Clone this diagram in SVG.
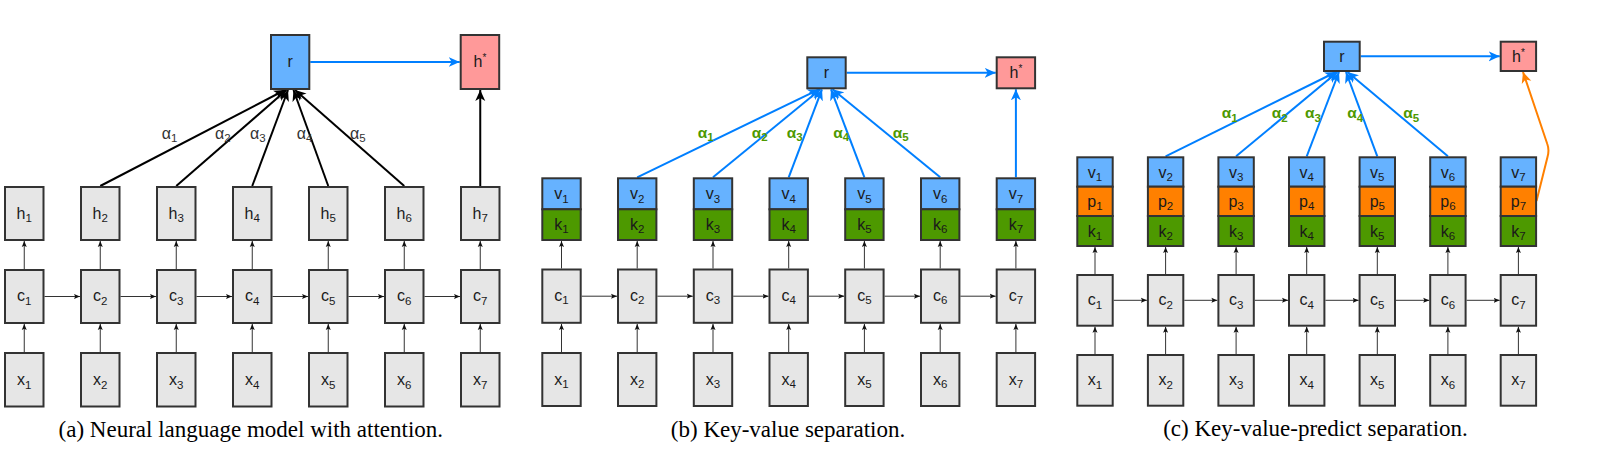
<svg xmlns="http://www.w3.org/2000/svg" width="1598" height="460" viewBox="0 0 1598 460">
<style>
.n{stroke:#333333;stroke-width:2}
.g{fill:#e6e6e6}.b{fill:#66b2ff}.rd{fill:#ff9999}.gr{fill:#4d9900}.or{fill:#ff8000}
text{font-family:"Liberation Sans",Arial,sans-serif;}
.t{font-size:16px;fill:#1a1a1a;text-anchor:middle}
.s{font-size:11.5px}
.sup{font-size:10px}
.al{font-size:16px;fill:#333;text-anchor:start}
.ag{font-size:15.5px;fill:#4d9900;font-weight:bold;text-anchor:start}
.cap{font-family:"Liberation Serif","Times New Roman",serif;font-size:23px;fill:#000;text-anchor:middle}
.sm{stroke:#333;stroke-width:1;fill:none;marker-end:url(#ms)}
.bk{stroke:#000;stroke-width:2;fill:none;marker-end:url(#mk)}
.bl{stroke:#007fff;stroke-width:2;fill:none;marker-end:url(#mb)}
.og{stroke:#ff8000;stroke-width:2;fill:none;marker-end:url(#mo)}
</style>
<defs>
<marker id="ms" markerUnits="userSpaceOnUse" markerWidth="6" markerHeight="6" viewBox="0 0 6 6" refX="6" refY="3" orient="auto"><path d="M0,0.5 L6,3 L0,5.5 L1.2,3 Z" fill="#111"/></marker>
<marker id="mk" markerUnits="userSpaceOnUse" markerWidth="11" markerHeight="11" viewBox="0 0 11 11" refX="11" refY="5.5" orient="auto"><path d="M0,0.5 L11,5.5 L0,10.5 L3,5.5 Z" fill="#000"/></marker>
<marker id="mb" markerUnits="userSpaceOnUse" markerWidth="11" markerHeight="11" viewBox="0 0 11 11" refX="11" refY="5.5" orient="auto"><path d="M0,0.5 L11,5.5 L0,10.5 L3,5.5 Z" fill="#007fff"/></marker>
<marker id="mo" markerUnits="userSpaceOnUse" markerWidth="11" markerHeight="11" viewBox="0 0 11 11" refX="11" refY="5.5" orient="auto"><path d="M0,0.5 L11,5.5 L0,10.5 L3,5.5 Z" fill="#ff8000"/></marker>
</defs>
<rect width="1598" height="460" fill="#fff"/>

<!-- ===== Panel A ===== -->
<g id="a-connectors">
<path class="sm" d="M24.25,352 V324"/><path class="sm" d="M100.25,352 V324"/><path class="sm" d="M176.25,352 V324"/><path class="sm" d="M252.25,352 V324"/><path class="sm" d="M328.25,352 V324"/><path class="sm" d="M404.25,352 V324"/><path class="sm" d="M480.25,352 V324"/>
<path class="sm" d="M24.25,269 V241"/><path class="sm" d="M100.25,269 V241"/><path class="sm" d="M176.25,269 V241"/><path class="sm" d="M252.25,269 V241"/><path class="sm" d="M328.25,269 V241"/><path class="sm" d="M404.25,269 V241"/><path class="sm" d="M480.25,269 V241"/>
<path class="sm" d="M44.5,296.5 H80"/><path class="sm" d="M120.5,296.5 H156"/><path class="sm" d="M196.5,296.5 H232"/><path class="sm" d="M272.5,296.5 H308"/><path class="sm" d="M348.5,296.5 H384"/><path class="sm" d="M424.5,296.5 H460"/>
<path class="bk" d="M100.25,186 L285,90"/>
<path class="bk" d="M176.25,186 L286.5,90"/>
<path class="bk" d="M252.25,186 L288,90"/>
<path class="bk" d="M328.25,186 L293.5,90"/>
<path class="bk" d="M404.25,186 L295,90"/>
<path class="bk" d="M480.25,186 V90"/>
<path class="bl" d="M310.3,62 H459.7"/>
<text class="al" x="161.7" y="138.5">α<tspan class="s" dy="3.5">1</tspan></text>
<text class="al" x="215" y="138.5">α<tspan class="s" dy="3.5">2</tspan></text>
<text class="al" x="250" y="138.5">α<tspan class="s" dy="3.5">3</tspan></text>
<text class="al" x="296.7" y="138.5">α<tspan class="s" dy="3.5">4</tspan></text>
<text class="al" x="350" y="138.5">α<tspan class="s" dy="3.5">5</tspan></text>
</g>
<g id="a-r"><rect class="n b" x="271" y="35" width="38.3" height="54"/><text class="t" x="290.2" y="67">r</text></g>
<g id="a-hstar"><rect class="n rd" x="460.7" y="35" width="38.5" height="54"/><text class="t" x="480" y="67">h<tspan class="sup" dy="-6">*</tspan></text></g>
<g id="a-h1"><rect class="n g" x="5" y="187" width="38.5" height="53"/><text class="t" x="24.25" y="218.5">h<tspan class="s" dy="3.5">1</tspan></text></g>
<g id="a-h2"><rect class="n g" x="81" y="187" width="38.5" height="53"/><text class="t" x="100.25" y="218.5">h<tspan class="s" dy="3.5">2</tspan></text></g>
<g id="a-h3"><rect class="n g" x="157" y="187" width="38.5" height="53"/><text class="t" x="176.25" y="218.5">h<tspan class="s" dy="3.5">3</tspan></text></g>
<g id="a-h4"><rect class="n g" x="233" y="187" width="38.5" height="53"/><text class="t" x="252.25" y="218.5">h<tspan class="s" dy="3.5">4</tspan></text></g>
<g id="a-h5"><rect class="n g" x="309" y="187" width="38.5" height="53"/><text class="t" x="328.25" y="218.5">h<tspan class="s" dy="3.5">5</tspan></text></g>
<g id="a-h6"><rect class="n g" x="385" y="187" width="38.5" height="53"/><text class="t" x="404.25" y="218.5">h<tspan class="s" dy="3.5">6</tspan></text></g>
<g id="a-h7"><rect class="n g" x="461" y="187" width="38.5" height="53"/><text class="t" x="480.25" y="218.5">h<tspan class="s" dy="3.5">7</tspan></text></g>
<g id="a-c1"><rect class="n g" x="5" y="270" width="38.5" height="53"/><text class="t" x="24.25" y="301">c<tspan class="s" dy="3.5">1</tspan></text></g>
<g id="a-c2"><rect class="n g" x="81" y="270" width="38.5" height="53"/><text class="t" x="100.25" y="301">c<tspan class="s" dy="3.5">2</tspan></text></g>
<g id="a-c3"><rect class="n g" x="157" y="270" width="38.5" height="53"/><text class="t" x="176.25" y="301">c<tspan class="s" dy="3.5">3</tspan></text></g>
<g id="a-c4"><rect class="n g" x="233" y="270" width="38.5" height="53"/><text class="t" x="252.25" y="301">c<tspan class="s" dy="3.5">4</tspan></text></g>
<g id="a-c5"><rect class="n g" x="309" y="270" width="38.5" height="53"/><text class="t" x="328.25" y="301">c<tspan class="s" dy="3.5">5</tspan></text></g>
<g id="a-c6"><rect class="n g" x="385" y="270" width="38.5" height="53"/><text class="t" x="404.25" y="301">c<tspan class="s" dy="3.5">6</tspan></text></g>
<g id="a-c7"><rect class="n g" x="461" y="270" width="38.5" height="53"/><text class="t" x="480.25" y="301">c<tspan class="s" dy="3.5">7</tspan></text></g>
<g id="a-x1"><rect class="n g" x="5" y="353" width="38.5" height="53.5"/><text class="t" x="24.25" y="385">x<tspan class="s" dy="3.5">1</tspan></text></g>
<g id="a-x2"><rect class="n g" x="81" y="353" width="38.5" height="53.5"/><text class="t" x="100.25" y="385">x<tspan class="s" dy="3.5">2</tspan></text></g>
<g id="a-x3"><rect class="n g" x="157" y="353" width="38.5" height="53.5"/><text class="t" x="176.25" y="385">x<tspan class="s" dy="3.5">3</tspan></text></g>
<g id="a-x4"><rect class="n g" x="233" y="353" width="38.5" height="53.5"/><text class="t" x="252.25" y="385">x<tspan class="s" dy="3.5">4</tspan></text></g>
<g id="a-x5"><rect class="n g" x="309" y="353" width="38.5" height="53.5"/><text class="t" x="328.25" y="385">x<tspan class="s" dy="3.5">5</tspan></text></g>
<g id="a-x6"><rect class="n g" x="385" y="353" width="38.5" height="53.5"/><text class="t" x="404.25" y="385">x<tspan class="s" dy="3.5">6</tspan></text></g>
<g id="a-x7"><rect class="n g" x="461" y="353" width="38.5" height="53.5"/><text class="t" x="480.25" y="385">x<tspan class="s" dy="3.5">7</tspan></text></g>
<text class="cap" x="250.8" y="437">(a) Neural language model with attention.</text>

<!-- ===== Panel B ===== -->
<g id="b-connectors">
<path class="sm" d="M561.5,352 V324"/><path class="sm" d="M637.2,352 V324"/><path class="sm" d="M713,352 V324"/><path class="sm" d="M788.7,352 V324"/><path class="sm" d="M864.4,352 V324"/><path class="sm" d="M940.2,352 V324"/><path class="sm" d="M1015.9,352 V324"/>
<path class="sm" d="M561.5,268.5 V241"/><path class="sm" d="M637.2,268.5 V241"/><path class="sm" d="M713,268.5 V241"/><path class="sm" d="M788.7,268.5 V241"/><path class="sm" d="M864.4,268.5 V241"/><path class="sm" d="M940.2,268.5 V241"/><path class="sm" d="M1015.9,268.5 V241"/>
<path class="sm" d="M581.7,296.2 H617"/><path class="sm" d="M657.4,296.2 H692.8"/><path class="sm" d="M733.2,296.2 H768.5"/><path class="sm" d="M808.9,296.2 H844.2"/><path class="sm" d="M884.6,296.2 H920"/><path class="sm" d="M960.4,296.2 H995.7"/>
<path class="bl" d="M637.2,177.3 L819,89.3"/>
<path class="bl" d="M713,177.3 L820.5,89.3"/>
<path class="bl" d="M788.7,177.3 L822,89.3"/>
<path class="bl" d="M864.4,177.3 L831,89.3"/>
<path class="bl" d="M940.2,177.3 L832.5,89.3"/>
<path class="bl" d="M1015.9,177.3 V89.3"/>
<path class="bl" d="M846.7,72.8 H995.7"/>
<text class="ag" x="697.7" y="137.5">α<tspan class="s" dy="3.5">1</tspan></text>
<text class="ag" x="751.7" y="137.5">α<tspan class="s" dy="3.5">2</tspan></text>
<text class="ag" x="786.7" y="137.5">α<tspan class="s" dy="3.5">3</tspan></text>
<text class="ag" x="833.3" y="137.5">α<tspan class="s" dy="3.5">4</tspan></text>
<text class="ag" x="892.7" y="137.5">α<tspan class="s" dy="3.5">5</tspan></text>
</g>
<g id="b-r"><rect class="n b" x="807.3" y="57.3" width="38.4" height="31"/><text class="t" x="826.5" y="78">r</text></g>
<g id="b-hstar"><rect class="n rd" x="996.7" y="57.3" width="38.4" height="31"/><text class="t" x="1015.9" y="78">h<tspan class="sup" dy="-6">*</tspan></text></g>
<g id="b-vk1"><rect class="n b" x="542.3" y="178.3" width="38.4" height="31"/><rect class="n gr" x="542.3" y="209.3" width="38.4" height="30.7"/><text class="t" x="561.5" y="199">v<tspan class="s" dy="3.5">1</tspan></text><text class="t" x="561.5" y="229.5">k<tspan class="s" dy="3.5">1</tspan></text></g>
<g id="b-vk2"><rect class="n b" x="618" y="178.3" width="38.4" height="31"/><rect class="n gr" x="618" y="209.3" width="38.4" height="30.7"/><text class="t" x="637.2" y="199">v<tspan class="s" dy="3.5">2</tspan></text><text class="t" x="637.2" y="229.5">k<tspan class="s" dy="3.5">2</tspan></text></g>
<g id="b-vk3"><rect class="n b" x="693.8" y="178.3" width="38.4" height="31"/><rect class="n gr" x="693.8" y="209.3" width="38.4" height="30.7"/><text class="t" x="713" y="199">v<tspan class="s" dy="3.5">3</tspan></text><text class="t" x="713" y="229.5">k<tspan class="s" dy="3.5">3</tspan></text></g>
<g id="b-vk4"><rect class="n b" x="769.5" y="178.3" width="38.4" height="31"/><rect class="n gr" x="769.5" y="209.3" width="38.4" height="30.7"/><text class="t" x="788.7" y="199">v<tspan class="s" dy="3.5">4</tspan></text><text class="t" x="788.7" y="229.5">k<tspan class="s" dy="3.5">4</tspan></text></g>
<g id="b-vk5"><rect class="n b" x="845.2" y="178.3" width="38.4" height="31"/><rect class="n gr" x="845.2" y="209.3" width="38.4" height="30.7"/><text class="t" x="864.4" y="199">v<tspan class="s" dy="3.5">5</tspan></text><text class="t" x="864.4" y="229.5">k<tspan class="s" dy="3.5">5</tspan></text></g>
<g id="b-vk6"><rect class="n b" x="921" y="178.3" width="38.4" height="31"/><rect class="n gr" x="921" y="209.3" width="38.4" height="30.7"/><text class="t" x="940.2" y="199">v<tspan class="s" dy="3.5">6</tspan></text><text class="t" x="940.2" y="229.5">k<tspan class="s" dy="3.5">6</tspan></text></g>
<g id="b-vk7"><rect class="n b" x="996.7" y="178.3" width="38.4" height="31"/><rect class="n gr" x="996.7" y="209.3" width="38.4" height="30.7"/><text class="t" x="1015.9" y="199">v<tspan class="s" dy="3.5">7</tspan></text><text class="t" x="1015.9" y="229.5">k<tspan class="s" dy="3.5">7</tspan></text></g>
<g id="b-c1"><rect class="n g" x="542.3" y="269.5" width="38.4" height="53.3"/><text class="t" x="561.5" y="300.5">c<tspan class="s" dy="3.5">1</tspan></text></g>
<g id="b-c2"><rect class="n g" x="618" y="269.5" width="38.4" height="53.3"/><text class="t" x="637.2" y="300.5">c<tspan class="s" dy="3.5">2</tspan></text></g>
<g id="b-c3"><rect class="n g" x="693.8" y="269.5" width="38.4" height="53.3"/><text class="t" x="713" y="300.5">c<tspan class="s" dy="3.5">3</tspan></text></g>
<g id="b-c4"><rect class="n g" x="769.5" y="269.5" width="38.4" height="53.3"/><text class="t" x="788.7" y="300.5">c<tspan class="s" dy="3.5">4</tspan></text></g>
<g id="b-c5"><rect class="n g" x="845.2" y="269.5" width="38.4" height="53.3"/><text class="t" x="864.4" y="300.5">c<tspan class="s" dy="3.5">5</tspan></text></g>
<g id="b-c6"><rect class="n g" x="921" y="269.5" width="38.4" height="53.3"/><text class="t" x="940.2" y="300.5">c<tspan class="s" dy="3.5">6</tspan></text></g>
<g id="b-c7"><rect class="n g" x="996.7" y="269.5" width="38.4" height="53.3"/><text class="t" x="1015.9" y="300.5">c<tspan class="s" dy="3.5">7</tspan></text></g>
<g id="b-x1"><rect class="n g" x="542.3" y="353" width="38.4" height="53"/><text class="t" x="561.5" y="384.5">x<tspan class="s" dy="3.5">1</tspan></text></g>
<g id="b-x2"><rect class="n g" x="618" y="353" width="38.4" height="53"/><text class="t" x="637.2" y="384.5">x<tspan class="s" dy="3.5">2</tspan></text></g>
<g id="b-x3"><rect class="n g" x="693.8" y="353" width="38.4" height="53"/><text class="t" x="713" y="384.5">x<tspan class="s" dy="3.5">3</tspan></text></g>
<g id="b-x4"><rect class="n g" x="769.5" y="353" width="38.4" height="53"/><text class="t" x="788.7" y="384.5">x<tspan class="s" dy="3.5">4</tspan></text></g>
<g id="b-x5"><rect class="n g" x="845.2" y="353" width="38.4" height="53"/><text class="t" x="864.4" y="384.5">x<tspan class="s" dy="3.5">5</tspan></text></g>
<g id="b-x6"><rect class="n g" x="921" y="353" width="38.4" height="53"/><text class="t" x="940.2" y="384.5">x<tspan class="s" dy="3.5">6</tspan></text></g>
<g id="b-x7"><rect class="n g" x="996.7" y="353" width="38.4" height="53"/><text class="t" x="1015.9" y="384.5">x<tspan class="s" dy="3.5">7</tspan></text></g>
<text class="cap" x="788" y="436.5">(b) Key-value separation.</text>

<!-- ===== Panel C ===== -->
<g id="c-connectors">
<path class="sm" d="M1095,354 V326.7"/><path class="sm" d="M1165.6,354 V326.7"/><path class="sm" d="M1236.1,354 V326.7"/><path class="sm" d="M1306.7,354 V326.7"/><path class="sm" d="M1377.3,354 V326.7"/><path class="sm" d="M1447.9,354 V326.7"/><path class="sm" d="M1518.4,354 V326.7"/>
<path class="sm" d="M1095,274 V247"/><path class="sm" d="M1165.6,274 V247"/><path class="sm" d="M1236.1,274 V247"/><path class="sm" d="M1306.7,274 V247"/><path class="sm" d="M1377.3,274 V247"/><path class="sm" d="M1447.9,274 V247"/><path class="sm" d="M1518.4,274 V247"/>
<path class="sm" d="M1113.7,300.3 H1146.9"/><path class="sm" d="M1184.3,300.3 H1217.4"/><path class="sm" d="M1254.8,300.3 H1288"/><path class="sm" d="M1325.4,300.3 H1358.6"/><path class="sm" d="M1396,300.3 H1429.2"/><path class="sm" d="M1466.6,300.3 H1499.7"/>
<path class="bl" d="M1165.6,156.3 L1336,72"/>
<path class="bl" d="M1236.1,156.3 L1337.5,72"/>
<path class="bl" d="M1306.7,156.3 L1339,72"/>
<path class="bl" d="M1377.3,156.3 L1346,72"/>
<path class="bl" d="M1447.9,156.3 L1347.5,72"/>
<path class="bl" d="M1360.7,56.3 H1499.7"/>
<path class="og" d="M1536.5,201 L1547.5,157 Q1549.5,150 1547.3,144 L1523,72"/>
<text class="ag" x="1221.7" y="118">α<tspan class="s" dy="3.5">1</tspan></text>
<text class="ag" x="1271.7" y="118">α<tspan class="s" dy="3.5">2</tspan></text>
<text class="ag" x="1305" y="118">α<tspan class="s" dy="3.5">3</tspan></text>
<text class="ag" x="1347.3" y="118">α<tspan class="s" dy="3.5">4</tspan></text>
<text class="ag" x="1403.3" y="118">α<tspan class="s" dy="3.5">5</tspan></text>
</g>
<g id="c-r"><rect class="n b" x="1324" y="41.7" width="35.7" height="29.3"/><text class="t" x="1341.9" y="62">r</text></g>
<g id="c-hstar"><rect class="n rd" x="1500.7" y="41.7" width="35.4" height="29.3"/><text class="t" x="1518.4" y="62">h<tspan class="sup" dy="-6">*</tspan></text></g>
<g id="c-vpk1"><rect class="n b" x="1077.3" y="157.3" width="35.4" height="29.4"/><rect class="n or" x="1077.3" y="186.7" width="35.4" height="29.3"/><rect class="n gr" x="1077.3" y="216" width="35.4" height="30"/><text class="t" x="1095" y="177.5">v<tspan class="s" dy="3.5">1</tspan></text><text class="t" x="1095" y="206.5">p<tspan class="s" dy="3.5">1</tspan></text><text class="t" x="1095" y="236.5">k<tspan class="s" dy="3.5">1</tspan></text></g>
<g id="c-vpk2"><rect class="n b" x="1147.9" y="157.3" width="35.4" height="29.4"/><rect class="n or" x="1147.9" y="186.7" width="35.4" height="29.3"/><rect class="n gr" x="1147.9" y="216" width="35.4" height="30"/><text class="t" x="1165.6" y="177.5">v<tspan class="s" dy="3.5">2</tspan></text><text class="t" x="1165.6" y="206.5">p<tspan class="s" dy="3.5">2</tspan></text><text class="t" x="1165.6" y="236.5">k<tspan class="s" dy="3.5">2</tspan></text></g>
<g id="c-vpk3"><rect class="n b" x="1218.4" y="157.3" width="35.4" height="29.4"/><rect class="n or" x="1218.4" y="186.7" width="35.4" height="29.3"/><rect class="n gr" x="1218.4" y="216" width="35.4" height="30"/><text class="t" x="1236.1" y="177.5">v<tspan class="s" dy="3.5">3</tspan></text><text class="t" x="1236.1" y="206.5">p<tspan class="s" dy="3.5">3</tspan></text><text class="t" x="1236.1" y="236.5">k<tspan class="s" dy="3.5">3</tspan></text></g>
<g id="c-vpk4"><rect class="n b" x="1289" y="157.3" width="35.4" height="29.4"/><rect class="n or" x="1289" y="186.7" width="35.4" height="29.3"/><rect class="n gr" x="1289" y="216" width="35.4" height="30"/><text class="t" x="1306.7" y="177.5">v<tspan class="s" dy="3.5">4</tspan></text><text class="t" x="1306.7" y="206.5">p<tspan class="s" dy="3.5">4</tspan></text><text class="t" x="1306.7" y="236.5">k<tspan class="s" dy="3.5">4</tspan></text></g>
<g id="c-vpk5"><rect class="n b" x="1359.6" y="157.3" width="35.4" height="29.4"/><rect class="n or" x="1359.6" y="186.7" width="35.4" height="29.3"/><rect class="n gr" x="1359.6" y="216" width="35.4" height="30"/><text class="t" x="1377.3" y="177.5">v<tspan class="s" dy="3.5">5</tspan></text><text class="t" x="1377.3" y="206.5">p<tspan class="s" dy="3.5">5</tspan></text><text class="t" x="1377.3" y="236.5">k<tspan class="s" dy="3.5">5</tspan></text></g>
<g id="c-vpk6"><rect class="n b" x="1430.2" y="157.3" width="35.4" height="29.4"/><rect class="n or" x="1430.2" y="186.7" width="35.4" height="29.3"/><rect class="n gr" x="1430.2" y="216" width="35.4" height="30"/><text class="t" x="1447.9" y="177.5">v<tspan class="s" dy="3.5">6</tspan></text><text class="t" x="1447.9" y="206.5">p<tspan class="s" dy="3.5">6</tspan></text><text class="t" x="1447.9" y="236.5">k<tspan class="s" dy="3.5">6</tspan></text></g>
<g id="c-vpk7"><rect class="n b" x="1500.7" y="157.3" width="35.4" height="29.4"/><rect class="n or" x="1500.7" y="186.7" width="35.4" height="29.3"/><rect class="n gr" x="1500.7" y="216" width="35.4" height="30"/><text class="t" x="1518.4" y="177.5">v<tspan class="s" dy="3.5">7</tspan></text><text class="t" x="1518.4" y="206.5">p<tspan class="s" dy="3.5">7</tspan></text><text class="t" x="1518.4" y="236.5">k<tspan class="s" dy="3.5">7</tspan></text></g>
<g id="c-c1"><rect class="n g" x="1077.3" y="275" width="35.4" height="50.7"/><text class="t" x="1095" y="305">c<tspan class="s" dy="3.5">1</tspan></text></g>
<g id="c-c2"><rect class="n g" x="1147.9" y="275" width="35.4" height="50.7"/><text class="t" x="1165.6" y="305">c<tspan class="s" dy="3.5">2</tspan></text></g>
<g id="c-c3"><rect class="n g" x="1218.4" y="275" width="35.4" height="50.7"/><text class="t" x="1236.1" y="305">c<tspan class="s" dy="3.5">3</tspan></text></g>
<g id="c-c4"><rect class="n g" x="1289" y="275" width="35.4" height="50.7"/><text class="t" x="1306.7" y="305">c<tspan class="s" dy="3.5">4</tspan></text></g>
<g id="c-c5"><rect class="n g" x="1359.6" y="275" width="35.4" height="50.7"/><text class="t" x="1377.3" y="305">c<tspan class="s" dy="3.5">5</tspan></text></g>
<g id="c-c6"><rect class="n g" x="1430.2" y="275" width="35.4" height="50.7"/><text class="t" x="1447.9" y="305">c<tspan class="s" dy="3.5">6</tspan></text></g>
<g id="c-c7"><rect class="n g" x="1500.7" y="275" width="35.4" height="50.7"/><text class="t" x="1518.4" y="305">c<tspan class="s" dy="3.5">7</tspan></text></g>
<g id="c-x1"><rect class="n g" x="1077.3" y="355" width="35.4" height="50.7"/><text class="t" x="1095" y="385">x<tspan class="s" dy="3.5">1</tspan></text></g>
<g id="c-x2"><rect class="n g" x="1147.9" y="355" width="35.4" height="50.7"/><text class="t" x="1165.6" y="385">x<tspan class="s" dy="3.5">2</tspan></text></g>
<g id="c-x3"><rect class="n g" x="1218.4" y="355" width="35.4" height="50.7"/><text class="t" x="1236.1" y="385">x<tspan class="s" dy="3.5">3</tspan></text></g>
<g id="c-x4"><rect class="n g" x="1289" y="355" width="35.4" height="50.7"/><text class="t" x="1306.7" y="385">x<tspan class="s" dy="3.5">4</tspan></text></g>
<g id="c-x5"><rect class="n g" x="1359.6" y="355" width="35.4" height="50.7"/><text class="t" x="1377.3" y="385">x<tspan class="s" dy="3.5">5</tspan></text></g>
<g id="c-x6"><rect class="n g" x="1430.2" y="355" width="35.4" height="50.7"/><text class="t" x="1447.9" y="385">x<tspan class="s" dy="3.5">6</tspan></text></g>
<g id="c-x7"><rect class="n g" x="1500.7" y="355" width="35.4" height="50.7"/><text class="t" x="1518.4" y="385">x<tspan class="s" dy="3.5">7</tspan></text></g>
<text class="cap" x="1315.5" y="435.5">(c) Key-value-predict separation.</text>
</svg>
